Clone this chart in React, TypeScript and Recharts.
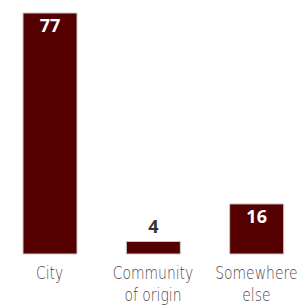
import { BarChart, Bar, XAxis, YAxis, LabelList } from 'recharts'

const categories = ['City', 'Community\nof origin', 'Somewhere\nelse']
const shares = [77, 4, 16]

const data = categories.map((name, i) => ({ name, value: shares[i] }))

const BAR = '#550000'

function MultiTick({ x, y, payload }: any) {
  const lines = String(payload.value).split('\n')
  return (
    <g transform={`translate(${x},${y})`}>
      {lines.map((line, i) => (
        <text
          key={i}
          x={0}
          y={i * 22}
          dy={17}
          textAnchor="middle"
          fill="#4a4a4a"
          fontSize={17}
          fontFamily="'DejaVu Sans', sans-serif"
          style={{ fontStretch: 'condensed', fontWeight: 300 }}
          transform="scale(0.82,1)"
        >
          {line}
        </text>
      ))}
    </g>
  )
}

function ValueLabel({ x, y, width, height, value }: any) {
  const inside = height > 30
  return (
    <text
      x={x + width / 2}
      y={inside ? y + 19 : y - 8}
      textAnchor="middle"
      fill={inside ? '#fff' : '#333'}
      fontSize={18}
      fontWeight="bold"
      fontFamily="'Open Sans', 'DejaVu Sans', sans-serif"
    >
      {value}
    </text>
  )
}

export default function App() {
  return (
    <div style={{ position: 'absolute', left: 0, top: 0, width: 300, height: 308, overflow: 'hidden', background: '#fff' }}>
      <div style={{ position: 'absolute', left: -2, top: 0 }}>
        <BarChart width={310} height={308} data={data} margin={{ top: 13, right: 0, left: 0, bottom: 0 }}>
          <XAxis
            dataKey="name"
            axisLine={false}
            tickLine={false}
            height={54}
            interval={0}
            tick={<MultiTick />}
          />
          <YAxis hide domain={[0, 77]} />
          <Bar dataKey="value" fill={BAR} stroke="#c8c8c8" strokeWidth={1} barSize={54} isAnimationActive={false}>
            <LabelList dataKey="value" content={<ValueLabel />} />
          </Bar>
        </BarChart>
      </div>
    </div>
  )
}
